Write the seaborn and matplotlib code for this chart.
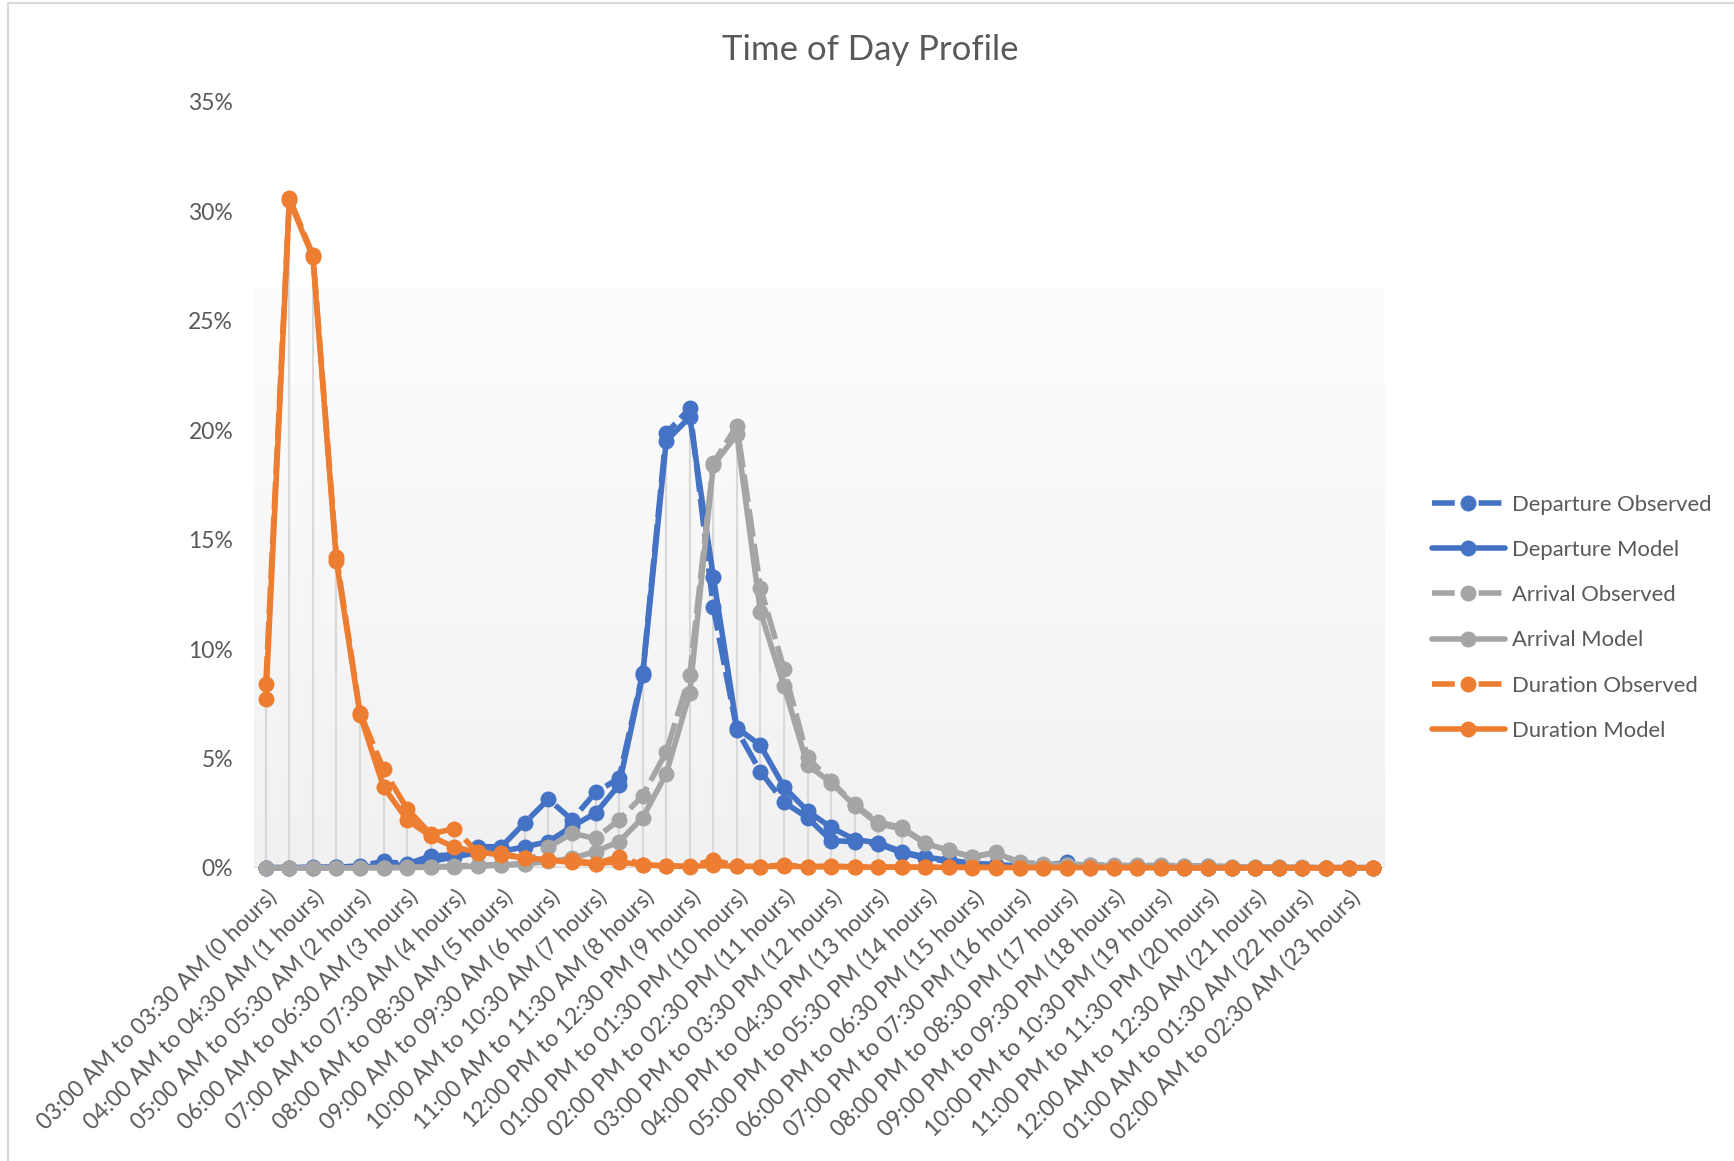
import numpy as np
import pandas as pd
import matplotlib as mpl
mpl.use("Agg")
import matplotlib.pyplot as plt
import seaborn as sns
from matplotlib.colors import LinearSegmentedColormap
from matplotlib.lines import Line2D

# dados: 48 faixas de meia hora (valores em %)
slots = np.arange(48)

tick_labels = [
    "03:00 AM to 03:30 AM (0 hours)", "04:00 AM to 04:30 AM (1 hours)",
    "05:00 AM to 05:30 AM (2 hours)", "06:00 AM to 06:30 AM (3 hours)",
    "07:00 AM to 07:30 AM (4 hours)", "08:00 AM to 08:30 AM (5 hours)",
    "09:00 AM to 09:30 AM (6 hours)", "10:00 AM to 10:30 AM (7 hours)",
    "11:00 AM to 11:30 AM (8 hours)", "12:00 PM to 12:30 PM (9 hours)",
    "01:00 PM to 01:30 PM (10 hours)", "02:00 PM to 02:30 PM (11 hours)",
    "03:00 PM to 03:30 PM (12 hours)", "04:00 PM to 04:30 PM (13 hours)",
    "05:00 PM to 05:30 PM (14 hours)", "06:00 PM to 06:30 PM (15 hours)",
    "07:00 PM to 07:30 PM (16 hours)", "08:00 PM to 08:30 PM (17 hours)",
    "09:00 PM to 09:30 PM (18 hours)", "10:00 PM to 10:30 PM (19 hours)",
    "11:00 PM to 11:30 PM (20 hours)", "12:00 AM to 12:30 AM (21 hours)",
    "01:00 AM to 01:30 AM (22 hours)", "02:00 AM to 02:30 AM (23 hours)",
]

dep_obs = [0.01, 0.02, 0.02, 0.03, 0.1, 0.3, 0.18, 0.55, 0.6, 0.97, 0.97, 2.07,
           3.14, 2.2, 3.45, 4.1, 8.9, 19.85, 21.0, 11.9, 6.3, 4.4, 3.0, 2.3,
           1.25, 1.2, 1.1, 0.7, 0.45, 0.3, 0.2, 0.12, 0.08, 0.1, 0.25, 0.05,
           0.04, 0.03, 0.03, 0.02, 0.02, 0.02, 0.01, 0.01, 0.01, 0.01, 0.01, 0.01]
dep_mod = [0.02, 0.02, 0.03, 0.04, 0.05, 0.1, 0.15, 0.3, 0.5, 0.7, 0.75, 0.97,
           1.2, 1.9, 2.5, 3.8, 8.8, 19.5, 20.6, 13.3, 6.4, 5.6, 3.7, 2.6,
           1.85, 1.3, 1.15, 0.75, 0.5, 0.35, 0.22, 0.15, 0.1, 0.08, 0.06, 0.05,
           0.04, 0.04, 0.03, 0.03, 0.02, 0.02, 0.02, 0.01, 0.01, 0.01, 0.01, 0.01]
arr_obs = [0.0, 0.0, 0.0, 0.0, 0.01, 0.02, 0.03, 0.05, 0.08, 0.14, 0.15, 0.2,
           0.95, 1.58, 1.35, 2.2, 3.3, 5.3, 8.8, 18.5, 20.2, 12.8, 9.1, 5.05,
           3.95, 2.9, 2.1, 1.85, 1.15, 0.8, 0.5, 0.72, 0.25, 0.2, 0.15, 0.15,
           0.12, 0.12, 0.12, 0.1, 0.1, 0.06, 0.05, 0.04, 0.03, 0.02, 0.02, 0.02]
arr_mod = [0.0, 0.0, 0.0, 0.0, 0.01, 0.01, 0.02, 0.03, 0.05, 0.08, 0.12, 0.18,
           0.3, 0.44, 0.75, 1.2, 2.3, 4.3, 8.0, 18.4, 19.8, 11.7, 8.3, 4.7,
           3.9, 2.85, 2.0, 1.8, 1.12, 0.8, 0.5, 0.7, 0.22, 0.15, 0.12, 0.12,
           0.1, 0.1, 0.1, 0.08, 0.08, 0.05, 0.04, 0.03, 0.02, 0.02, 0.01, 0.01]
dur_obs = [8.4, 30.6, 28.0, 14.2, 7.1, 4.5, 2.7, 1.55, 1.8, 0.7, 0.67, 0.44,
           0.37, 0.37, 0.2, 0.52, 0.14, 0.09, 0.06, 0.37, 0.09, 0.06, 0.14, 0.06,
           0.09, 0.05, 0.04, 0.04, 0.03, 0.03, 0.03, 0.03, 0.02, 0.02, 0.02, 0.02,
           0.02, 0.02, 0.02, 0.01, 0.01, 0.01, 0.01, 0.01, 0.01, 0.01, 0.01, 0.01]
dur_mod = [7.7, 30.5, 27.9, 14.0, 7.0, 3.7, 2.2, 1.45, 0.95, 0.72, 0.6, 0.45,
           0.37, 0.25, 0.2, 0.28, 0.14, 0.1, 0.07, 0.12, 0.07, 0.06, 0.08, 0.05,
           0.06, 0.04, 0.04, 0.03, 0.03, 0.03, 0.02, 0.02, 0.02, 0.02, 0.02, 0.02,
           0.02, 0.01, 0.01, 0.01, 0.01, 0.01, 0.01, 0.01, 0.01, 0.01, 0.01, 0.01]

series = [
    ("Departure Observed", dep_obs, "#4472C4", True),
    ("Departure Model", dep_mod, "#4472C4", False),
    ("Arrival Observed", arr_obs, "#A5A5A5", True),
    ("Arrival Model", arr_mod, "#A5A5A5", False),
    ("Duration Observed", dur_obs, "#ED7D31", True),
    ("Duration Model", dur_mod, "#ED7D31", False),
]

sns.set_style("white")
plt.rcParams['font.family'] = ['Lato', 'DejaVu Sans']
txt = "#595959"

fig = plt.figure(figsize=(17.34, 11.61), dpi=100)
ax = fig.add_axes([0.1465, 0.2524, 0.652, 0.660])

# fundo em degradê da área de plotagem
cmap = LinearSegmentedColormap.from_list("bg", ["#fdfdfd", "#f1f1f1"])
ax.imshow(np.linspace(0, 1, 256).reshape(-1, 1), cmap=cmap, aspect="auto",
          extent=(-0.5, 47.5, 0, 26.5), origin="upper", zorder=0)

# linhas de queda
drop = np.max([s[1] for s in series], axis=0)
ax.vlines(slots, 0, drop, color="#d9d9d9", lw=1.6, zorder=1)
ax.axhline(0, color="#d9d9d9", lw=1.6, zorder=1)

lw, ms = 4.0, 11.5
handles = []
for name, vals, col, dashed in series:
    ls = (0, (5, 1.3)) if dashed else "-"
    sns.lineplot(x=slots, y=vals, ax=ax, color=col, linestyle=ls, lw=lw,
                 marker="o", markersize=ms, markeredgewidth=0, clip_on=False,
                 zorder=3)
    # legenda: traço - marcador - traço
    ls_leg = (0, (4.1, 4.3)) if dashed else "-"
    handles.append(Line2D([], [], color=col, linestyle=ls_leg, lw=lw, marker="o",
                          markersize=ms, markeredgewidth=0, label=name))

ax.set_xlim(-0.5, 47.5)
ax.set_ylim(0, 35)
ax.set_yticks(range(0, 36, 5))
ax.set_yticklabels([f"{v}%" for v in range(0, 36, 5)], fontsize=16.5, color=txt)
ax.set_xticks(slots[::2])
ax.set_xticklabels(tick_labels, rotation=45, ha="right", va="top",
                   rotation_mode="anchor", fontsize=16.5, color=txt)
ax.tick_params(axis="both", length=0)
ax.tick_params(axis="y", pad=15)
ax.tick_params(axis="x", pad=13)
sns.despine(ax=ax, left=True, bottom=True)
ax.set_xlabel("")
ax.set_ylabel("")

fig.text(0.502, 0.957, "Time of Day Profile", ha="center", va="center",
         fontsize=25, color=txt)

fig.legend(handles=handles, loc="center left", bbox_to_anchor=(0.826, 0.468),
           frameon=False, fontsize=15.8, labelcolor=txt, handlelength=3.3,
           handletextpad=0.35, labelspacing=1.15, borderpad=0, borderaxespad=0)

# borda do gráfico
fig.add_artist(Line2D([8 / 1734, 8 / 1734], [0, 1 - 3 / 1161], color="#d9d9d9", lw=1.5))
fig.add_artist(Line2D([8 / 1734, 1], [1 - 3 / 1161, 1 - 3 / 1161], color="#d9d9d9", lw=1.5))

fig.savefig("out.png", dpi=100)
